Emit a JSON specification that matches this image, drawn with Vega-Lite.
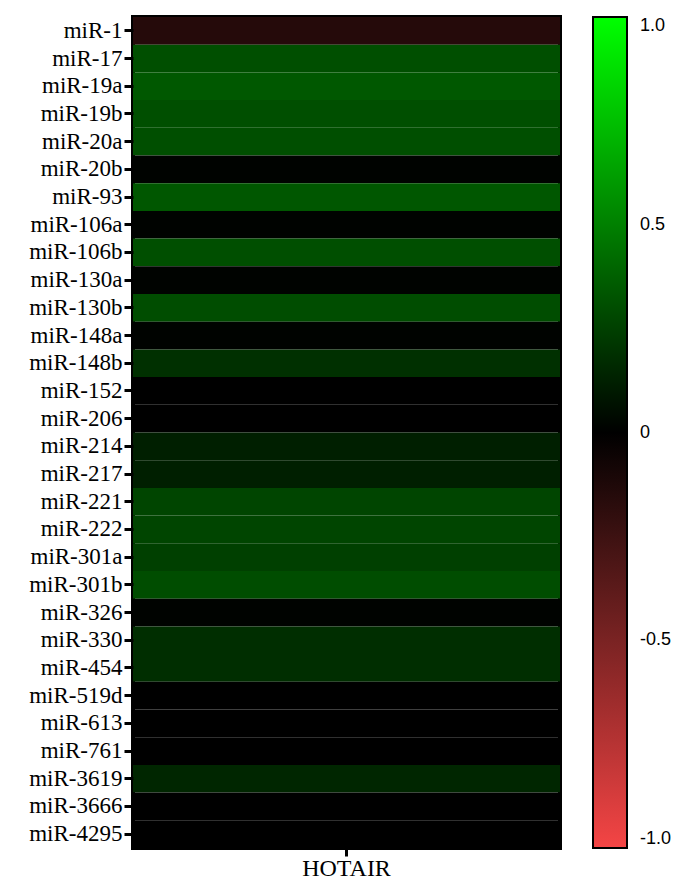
{
  "$schema": "https://vega.github.io/schema/vega-lite/v6.json",
  "autosize": {"type": "none"},
  "padding": {"left": 133, "top": 17, "right": 121, "bottom": 33},
  "width": 427,
  "height": 831,
  "background": "white",
  "data": {
    "values": [
      {"mirna": "miR-1", "gene": "HOTAIR", "r": -0.15},
      {"mirna": "miR-17", "gene": "HOTAIR", "r": 0.31},
      {"mirna": "miR-19a", "gene": "HOTAIR", "r": 0.345},
      {"mirna": "miR-19b", "gene": "HOTAIR", "r": 0.31},
      {"mirna": "miR-20a", "gene": "HOTAIR", "r": 0.31},
      {"mirna": "miR-20b", "gene": "HOTAIR", "r": 0.01},
      {"mirna": "miR-93", "gene": "HOTAIR", "r": 0.34},
      {"mirna": "miR-106a", "gene": "HOTAIR", "r": 0.01},
      {"mirna": "miR-106b", "gene": "HOTAIR", "r": 0.31},
      {"mirna": "miR-130a", "gene": "HOTAIR", "r": 0.01},
      {"mirna": "miR-130b", "gene": "HOTAIR", "r": 0.30},
      {"mirna": "miR-148a", "gene": "HOTAIR", "r": 0.01},
      {"mirna": "miR-148b", "gene": "HOTAIR", "r": 0.19},
      {"mirna": "miR-152", "gene": "HOTAIR", "r": 0.0},
      {"mirna": "miR-206", "gene": "HOTAIR", "r": 0.0},
      {"mirna": "miR-214", "gene": "HOTAIR", "r": 0.12},
      {"mirna": "miR-217", "gene": "HOTAIR", "r": 0.12},
      {"mirna": "miR-221", "gene": "HOTAIR", "r": 0.27},
      {"mirna": "miR-222", "gene": "HOTAIR", "r": 0.27},
      {"mirna": "miR-301a", "gene": "HOTAIR", "r": 0.25},
      {"mirna": "miR-301b", "gene": "HOTAIR", "r": 0.30},
      {"mirna": "miR-326", "gene": "HOTAIR", "r": 0.01},
      {"mirna": "miR-330", "gene": "HOTAIR", "r": 0.18},
      {"mirna": "miR-454", "gene": "HOTAIR", "r": 0.18},
      {"mirna": "miR-519d", "gene": "HOTAIR", "r": 0.0},
      {"mirna": "miR-613", "gene": "HOTAIR", "r": 0.0},
      {"mirna": "miR-761", "gene": "HOTAIR", "r": 0.0},
      {"mirna": "miR-3619", "gene": "HOTAIR", "r": 0.15},
      {"mirna": "miR-3666", "gene": "HOTAIR", "r": 0.0},
      {"mirna": "miR-4295", "gene": "HOTAIR", "r": 0.0}
    ]
  },
  "mark": {"type": "rect"},
  "encoding": {
    "y": {
      "field": "mirna",
      "type": "nominal",
      "sort": null,
      "scale": {"paddingInner": 0, "paddingOuter": 0},
      "axis": {
        "title": null,
        "domain": false,
        "labelFont": "Liberation Serif",
        "labelFontSize": 23,
        "labelColor": "black",
        "tickColor": "black",
        "tickWidth": 3,
        "tickSize": 9,
        "labelPadding": 2
      }
    },
    "x": {
      "field": "gene",
      "type": "nominal",
      "scale": {"paddingInner": 0, "paddingOuter": 0},
      "axis": {
        "title": null,
        "domain": false,
        "labelAngle": 0,
        "labelFont": "Liberation Serif",
        "labelFontSize": 24,
        "labelColor": "black",
        "tickColor": "black",
        "tickWidth": 3,
        "tickSize": 8,
        "labelPadding": 0
      }
    },
    "color": {
      "field": "r",
      "type": "quantitative",
      "scale": {
        "type": "linear",
        "domain": [-1, 0, 1],
        "range": ["#f44545", "#000000", "#00ff00"],
        "interpolate": "rgb"
      },
      "legend": {
        "title": null,
        "orient": "right",
        "offset": 33,
        "padding": 0,
        "gradientLength": 831,
        "gradientThickness": 34,
        "gradientStrokeColor": "black",
        "gradientStrokeWidth": 2,
        "values": [-1, -0.5, 0, 0.5, 1],
        "labelExpr": "datum.value == 0 ? '0' : (datum.value < 0 ? '-' : '') + format(abs(datum.value), '.1f')",
        "labelFont": "Liberation Sans",
        "labelFontSize": 18,
        "labelColor": "black",
        "labelOffset": 13,
        "labelOverlap": false
      }
    }
  },
  "config": {
    "view": {"stroke": "black", "strokeWidth": 4},
    "axis": {"grid": false}
  }
}
